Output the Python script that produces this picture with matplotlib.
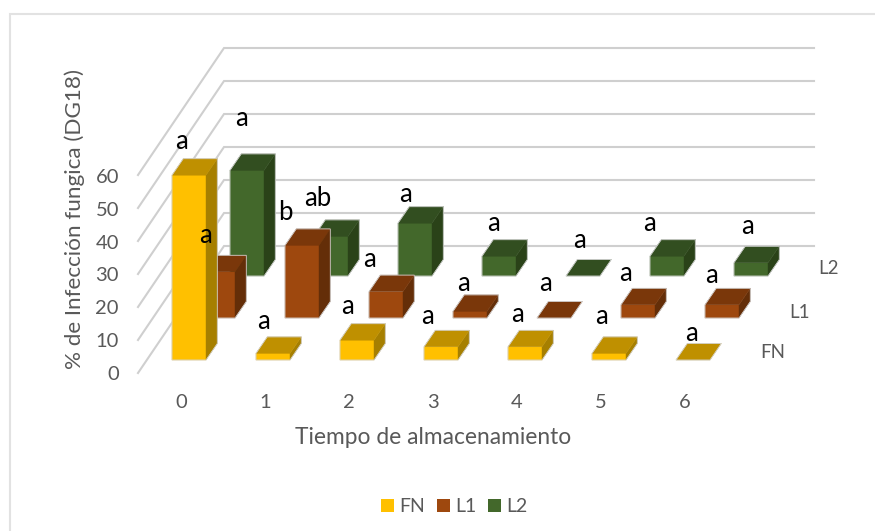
import numpy as np
from matplotlib import pyplot as plt
from matplotlib.patches import Polygon, Rectangle

plt.rcParams['font.family'] = ['Lato', 'DejaVu Sans']

# Data
categories = ["0", "1", "2", "3", "4", "5", "6"]
series_names = ["FN", "L1", "L2"]
fn_values = [56, 2, 6, 4, 4, 2, 0]
l1_values = [14, 22, 8, 2, 0, 4, 4]
l2_values = [32, 12, 16, 6, 0, 6, 4]
fn_letters = ["a", "a", "a", "a", "a", "a", "a"]
l1_letters = ["a", "b", "a", "a", "a", "a", "a"]
l2_letters = ["a", "ab", "a", "a", "a", "a", "a"]
y_ticks = [0, 10, 20, 30, 40, 50, 60]

# Hand placed letters, screen position of each letter centre
fn_letter_pos = [(181, 142), (264, 322), (348, 307), (427, 317), (517, 315), (601, 317), (691, 334)]
l1_letter_pos = [(205, 236), (285, 213), (369, 260), (463, 284), (545, 284), (626, 274), (711, 276)]
l2_letter_pos = [(242, 119), (318, 199), (406, 195), (493, 224), (579, 241), (649, 224), (747, 227)]

# Oblique projection of the 3D chart
PITCH = 84.0
BAR_W = 34.0
UNIT = 3.3
ROW_DX = 29.0
ROW_DY = 42.0
DEPTH_DX = 11.3
DEPTH_DY = 16.5
X0 = 172.0
Y0 = 360.0

TEXT = "#595959"
GRID = "#cfcfcf"
colors = {
    "FN": ("#ffc000", "#bf9000", "#a67f00"),
    "L1": ("#9e480e", "#7a370a", "#642e08"),
    "L2": ("#43682b", "#324e20", "#2a4218"),
}

fig = plt.figure(figsize=(8.75, 5.31), dpi=100)
ax = fig.add_axes([0, 0, 1, 1])
ax.set_xlim(0, 875)
ax.set_ylim(531, 0)
ax.axis("off")

# Chart frame, only top and left edges show
ax.plot([10, 10, 875], [531, 14, 14], color="#e2e2e2", lw=1.5, solid_joinstyle="miter", zorder=1)

# Walls: left diagonals and back lines
for v in y_ticks:
    y_front = 373 - v * UNIT
    y_back = 246 - v * UNIT
    ax.plot([138, 224, 814], [y_front, y_back, y_back], color=GRID, lw=1.5, solid_joinstyle="miter", zorder=1)


def draw_bar(cat, row, value, cols, z):
    x = X0 + PITCH * cat + ROW_DX * row
    y = Y0 - ROW_DY * row
    h = value * UNIT
    front, top, side = cols
    xr = x + BAR_W
    dx = DEPTH_DX
    dy = DEPTH_DY
    if h > 0:
        ax.add_patch(Polygon([(x, y), (xr, y), (xr, y - h), (x, y - h)], fc=front, ec=front, lw=0.3, zorder=z))
        ax.add_patch(Polygon([(xr, y), (xr + dx, y - dy), (xr + dx, y - h - dy), (xr, y - h)],
                             fc=side, ec=side, lw=0.3, zorder=z))
    ax.add_patch(Polygon([(x, y - h), (xr, y - h), (xr + dx, y - h - dy), (x + dx, y - h - dy)],
                         fc=top, ec=top, lw=0.3, zorder=z))
    # pale outline around the whole box
    ax.add_patch(Polygon([(x, y), (xr, y), (xr + dx, y - dy), (xr + dx, y - h - dy),
                          (x + dx, y - h - dy), (x, y - h)], fill=False, ec="#d4d4d4", lw=0.6, zorder=z))


# Back row first so the front rows cover it
rows = [(2, "L2", l2_values), (1, "L1", l1_values), (0, "FN", fn_values)]
for row, name, values in rows:
    for i, v in enumerate(values):
        draw_bar(i, row, v, colors[name], 3 + (2 - row))

for letters, pos in [(fn_letters, fn_letter_pos), (l1_letters, l1_letter_pos), (l2_letters, l2_letter_pos)]:
    for s, (px, py) in zip(letters, pos):
        ax.text(px, py + 7, s, fontsize=18.5, color="black", ha="center", va="baseline", zorder=10)

# Axis text
for v in y_ticks:
    ax.text(119, 374 - v * 3.27, str(v), fontsize=14.5, color=TEXT, ha="right", va="center")
for i, c in enumerate(categories):
    ax.text(181 + PITCH * i, 402, c, fontsize=14.5, color=TEXT, ha="center", va="center")
for name, px, py in [("L2", 828, 269), ("L1", 800, 312), ("FN", 773, 353)]:
    ax.text(px, py, name, fontsize=13.5, color=TEXT, ha="center", va="center")

ax.text(433, 438, "Tiempo de almacenamiento", fontsize=16.4, color=TEXT, ha="center", va="center")
ax.text(75, 219, "% de Infección fungica (DG18)", fontsize=16.2, color=TEXT, ha="center", va="center", rotation=90)

# Legend
for name, sx, tx in zip(series_names, [381, 437, 488], [399, 455, 506]):
    ax.add_patch(Rectangle((sx, 499), 13, 13, fc=colors[name][0], ec="none"))
    ax.text(tx, 506, name, fontsize=14, color=TEXT, ha="left", va="center")

fig.savefig("out.png", dpi=100)
